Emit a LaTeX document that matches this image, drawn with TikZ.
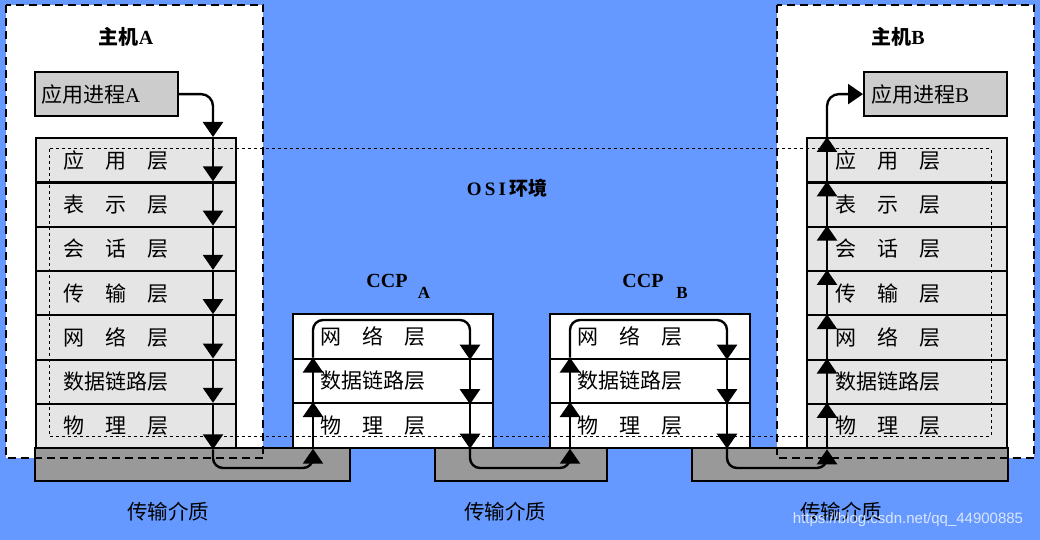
\documentclass[tikz,border=0pt]{standalone}
\usepackage{fontspec}
\setmainfont{Liberation Serif}
\newfontfamily\cjk{Noto Sans CJK SC}
\newfontfamily\wmfont{Liberation Sans}
\usetikzlibrary{arrows.meta,calc}
\definecolor{bgblue}{RGB}{102,153,255}
\definecolor{rowgray}{RGB}{229,229,229}
\definecolor{procgray}{RGB}{204,204,204}
\definecolor{medgray}{RGB}{153,153,153}
\newcommand\labfont{\fontsize{21}{25}\selectfont\cjk}
\newcommand\threech[3]{#1\hspace{1em}#2\hspace{1em}#3}
\begin{document}
\begin{tikzpicture}[x=1pt,y=-1pt,
  box/.style={draw=black, line width=2.2pt},
  row/.style={box, minimum width=200pt, minimum height=44.3pt, anchor=north west,
    inner xsep=28pt, inner ysep=0pt, text width=144pt, align=left, font=\labfont},
  hrow/.style={row, fill=rowgray},
  crow/.style={row, fill=white, minimum height=44.5pt},
  proc/.style={box, fill=procgray, minimum width=143pt, minimum height=44pt, anchor=north west,
    inner xsep=6pt, inner ysep=0pt, text width=131pt, align=left, font=\labfont},
  medium/.style={box, fill=medgray, minimum height=33pt, anchor=north west},
  hostfill/.style={fill=white, draw=none, minimum width=257pt, minimum height=453pt, anchor=north west, inner sep=0pt},
  hostborder/.style={line width=2pt, dash pattern=on 8pt off 5pt},
  osi/.style={line width=1pt, dash pattern=on 3pt off 3pt},
  flow/.style={line width=2.4pt, -{Triangle[width=20pt,length=15pt]}},
  title/.style={font=\fontsize{20}{24}\selectfont\bfseries},
  medlab/.style={font=\fontsize{20.5}{24}\selectfont\cjk},
  wm/.style={font=\fontsize{15}{18}\selectfont\wmfont, text=white, text opacity=0.75}
]
\useasboundingbox (0,0) rectangle (1040,540);
\fill[bgblue] (0,0) rectangle (1040,540);

% hosts (fill)
\node[hostfill] (hA) at (6,5) {};
\node[hostfill] (hB) at (777,5) {};

% transmission media
\node[medium, minimum width=315pt] (m1) at (34,447) {};
\node[medium, minimum width=172pt] (m2) at (433.5,447) {};
\node[medium, minimum width=316pt] (m3) at (690.5,447) {};

% host borders
\draw[hostborder] (hA.north west) rectangle (hA.south east);
\draw[hostborder] (hB.north west) rectangle (hB.south east);

% host stacks
\foreach \t [count=\i] in {\threech{应}{用}{层},\threech{表}{示}{层},\threech{会}{话}{层},\threech{传}{输}{层},\threech{网}{络}{层},数据链路层,\threech{物}{理}{层}}{
  \node[hrow] (a\i) at (34.5,{137+44.3*(\i-1)}) {\t};
  \node[hrow] (b\i) at (806,{137+44.3*(\i-1)}) {\t};
}

% CCP stacks
\foreach \t [count=\i] in {\threech{网}{络}{层},数据链路层,\threech{物}{理}{层}}{
  \node[crow] (cA\i) at (291.5,{313+44.5*(\i-1)}) {\t};
  \node[crow] (cB\i) at (548.5,{313+44.5*(\i-1)}) {\t};
}

% processes
\node[proc] (pA) at (34,71) {应用进程{\rmfamily A}};
\node[proc, inner xsep=7pt, text width=129pt] (pB) at (863,71) {应用进程{\rmfamily B}};

% OSI environment
\draw[osi] (49,149) rectangle (991,436);

% flow coordinates
\coordinate (xA) at (213,0);
\coordinate (xC1) at (313,0);
\coordinate (xC2) at (470,0);
\coordinate (xC3) at (570,0);
\coordinate (xC4) at (727,0);
\coordinate (xB) at (827,0);
\coordinate (yl) at (0,468);
\coordinate (yt) at (0,320);

% host A down
\draw[flow, rounded corners=12pt] (pA.east) -| (xA |- a1.north);
\foreach \i/\j in {1/2,2/3,3/4,4/5,5/6,6/7}
  \draw[flow] (xA |- a\i.north) -- (xA |- a\j.north);
\draw[flow] (xA |- a7.north) -- (xA |- a7.south);
% to CCP A
\draw[flow, rounded corners=10pt] (xA |- a7.south) -- (xA |- yl) -- (xC1 |- yl) -- (xC1 |- cA3.south);
\draw[flow] (xC1 |- cA3.south) -- (xC1 |- cA3.north);
\draw[flow] (xC1 |- cA3.north) -- (xC1 |- cA2.north);
\draw[flow, rounded corners=10pt] (xC1 |- cA2.north) -- (xC1 |- yt) -- (xC2 |- yt) -- (xC2 |- cA1.south);
\draw[flow] (xC2 |- cA2.north) -- (xC2 |- cA2.south);
\draw[flow] (xC2 |- cA3.north) -- (xC2 |- cA3.south);
% to CCP B
\draw[flow, rounded corners=10pt] (xC2 |- cA3.south) -- (xC2 |- yl) -- (xC3 |- yl) -- (xC3 |- cB3.south);
\draw[flow] (xC3 |- cB3.south) -- (xC3 |- cB3.north);
\draw[flow] (xC3 |- cB3.north) -- (xC3 |- cB2.north);
\draw[flow, rounded corners=10pt] (xC3 |- cB2.north) -- (xC3 |- yt) -- (xC4 |- yt) -- (xC4 |- cB1.south);
\draw[flow] (xC4 |- cB2.north) -- (xC4 |- cB2.south);
\draw[flow] (xC4 |- cB3.north) -- (xC4 |- cB3.south);
% to host B
\draw[flow, rounded corners=10pt] (xC4 |- cB3.south) -- (xC4 |- yl) -- (xB |- yl) -- (xB |- b7.south);
\draw[flow] (xB |- b7.south) -- (xB |- b7.north);
\foreach \i/\j in {7/6,6/5,5/4,4/3,3/2,2/1}
  \draw[flow] (xB |- b\i.north) -- (xB |- b\j.north);
\draw[flow, rounded corners=12pt] (xB |- b1.north) |- (pB.west);

% labels
\node[title] (tA) at (126,37) {{\cjk 主机}A};
\node[title] (tB) at (898,37) {{\cjk 主机}B};
\node[font=\fontsize{19}{22}\selectfont\bfseries] (osi) at (507,188) {O\,S\,I\,{\cjk 环境}};
\node[font=\fontsize{20}{24}\selectfont\bfseries] (ccpA) at (387,281) {CCP};
\node[font=\fontsize{17}{20}\selectfont\bfseries] (ccpAs) at (424,293) {A};
\node[font=\fontsize{20}{24}\selectfont\bfseries] (ccpB) at (643,281) {CCP};
\node[font=\fontsize{17}{20}\selectfont\bfseries] (ccpBs) at (682,293) {B};
\node[medlab] (t1) at (168,512) {传输介质};
\node[medlab] (t2) at (505,512) {传输介质};
\node[medlab] (t3) at (841,512) {传输介质};
\node[wm] (wmk) at (908,520) {https://blog.csdn.net/qq\_44900885};
\end{tikzpicture}
\end{document}
